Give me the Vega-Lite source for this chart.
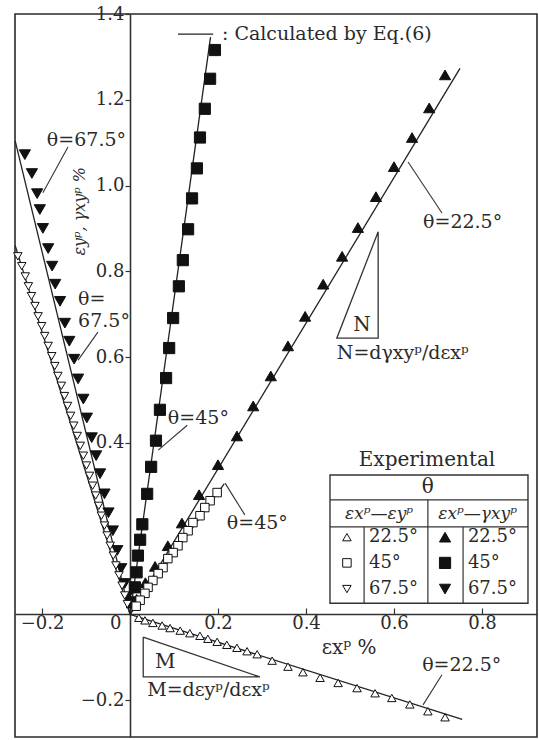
{
  "$schema": "https://vega.github.io/schema/vega-lite/v6.json",
  "width": 522,
  "height": 723,
  "autosize": {"type": "none"},
  "padding": {"left": 15, "top": 14, "right": 2, "bottom": 3},
  "background": "white",
  "config": {
    "view": {"stroke": "#2a2a2a", "strokeWidth": 1.6},
    "font": "DejaVu Serif",
    "text": {"font": "DejaVu Serif", "color": "#222"},
    "axis": {"title": null, "grid": false}
  },
  "datasets": {
    "theory": [
      {"curve": "gxy 22.5", "x0": 0, "y0": 0, "x1": 0.75, "y1": 1.273},
      {"curve": "gxy 45", "x0": 0, "y0": 0, "x1": 0.183, "y1": 1.346},
      {"curve": "gxy 67.5", "x0": 0, "y0": 0, "x1": -0.261, "y1": 1.104},
      {"curve": "ey 22.5", "x0": 0, "y0": 0, "x1": 0.755, "y1": -0.245},
      {"curve": "ey 45", "x0": 0, "y0": 0, "x1": 0.214, "y1": 0.304},
      {"curve": "ey 67.5", "x0": 0, "y0": 0, "x1": -0.261, "y1": 0.86},
      {"curve": "key", "x0": 0.109, "y0": 1.353, "x1": 0.189, "y1": 1.353}
    ],
    "leaders": [
      {"x0": -0.141, "y0": 1.09, "x1": -0.198, "y1": 0.983},
      {"x0": -0.073, "y0": 0.658, "x1": -0.118, "y1": 0.593},
      {"x0": 0.13, "y0": 0.441, "x1": 0.064, "y1": 0.383},
      {"x0": 0.709, "y0": 0.936, "x1": 0.632, "y1": 1.055},
      {"x0": 0.216, "y0": 0.306, "x1": 0.261, "y1": 0.232},
      {"x0": 0.709, "y0": -0.141, "x1": 0.666, "y1": -0.211}
    ],
    "slopes": [
      {"tri": "N", "k": 1, "x": 0.564, "y": 0.892},
      {"tri": "N", "k": 2, "x": 0.564, "y": 0.644},
      {"tri": "N", "k": 3, "x": 0.47, "y": 0.644},
      {"tri": "N", "k": 4, "x": 0.564, "y": 0.892},
      {"tri": "M", "k": 1, "x": 0.03, "y": -0.053},
      {"tri": "M", "k": 2, "x": 0.03, "y": -0.146},
      {"tri": "M", "k": 3, "x": 0.295, "y": -0.146},
      {"tri": "M", "k": 4, "x": 0.03, "y": -0.053}
    ],
    "tbox": [
      {"x0": 0.4545, "x1": 0.9045, "y0": 0.026, "y1": 0.325}
    ],
    "tlines": [
      {"x0": 0.4545, "x1": 0.9045, "y0": 0.267, "y1": 0.267},
      {"x0": 0.4545, "x1": 0.9045, "y0": 0.204, "y1": 0.204},
      {"x0": 0.677, "x1": 0.677, "y0": 0.026, "y1": 0.267},
      {"x0": 0.532, "x1": 0.532, "y0": 0.026, "y1": 0.204},
      {"x0": 0.757, "x1": 0.757, "y0": 0.026, "y1": 0.204}
    ],
    "key": [
      {"strain": "ey", "angle": "22.5", "x": 0.493, "y": 0.18},
      {"strain": "ey", "angle": "45", "x": 0.493, "y": 0.12},
      {"strain": "ey", "angle": "67.5", "x": 0.493, "y": 0.059},
      {"strain": "gxy", "angle": "22.5", "x": 0.716, "y": 0.18},
      {"strain": "gxy", "angle": "45", "x": 0.716, "y": 0.12},
      {"strain": "gxy", "angle": "67.5", "x": 0.716, "y": 0.059}
    ],
    "notes": [
      {"text": "θ=67.5°", "x": -0.189, "y": 1.106},
      {"text": "θ=", "x": -0.118, "y": 0.735},
      {"text": "67.5°", "x": -0.118, "y": 0.683},
      {"text": "θ=45°", "x": 0.086, "y": 0.458},
      {"text": "θ=22.5°", "x": 0.666, "y": 0.915},
      {"text": "θ=45°", "x": 0.22, "y": 0.213},
      {"text": "θ=22.5°", "x": 0.664, "y": -0.118},
      {"text": "N=dγxyᵖ/dεxᵖ", "x": 0.47, "y": 0.609},
      {"text": "M=dεyᵖ/dεxᵖ", "x": 0.039, "y": -0.177},
      {"text": ": Calculated by Eq.(6)", "x": 0.209, "y": 1.353}
    ],
    "cells": [
      {"text": "22.5°", "x": 0.543, "y": 0.18},
      {"text": "45°", "x": 0.543, "y": 0.12},
      {"text": "67.5°", "x": 0.543, "y": 0.059},
      {"text": "22.5°", "x": 0.768, "y": 0.18},
      {"text": "45°", "x": 0.768, "y": 0.12},
      {"text": "67.5°", "x": 0.768, "y": 0.059}
    ],
    "labels": [
      {"text": "N", "x": 0.527, "y": 0.675},
      {"text": "M", "x": 0.08, "y": -0.111},
      {"text": "Experimental", "x": 0.675, "y": 0.36},
      {"text": "θ", "x": 0.677, "y": 0.297},
      {"text": "εxᵖ  %", "x": 0.498, "y": -0.079}
    ],
    "heads": [
      {"text": "εxᵖ—εyᵖ", "x": 0.566, "y": 0.234},
      {"text": "εxᵖ—γxyᵖ", "x": 0.79, "y": 0.234}
    ],
    "ytitle": [
      {"text": "εyᵖ, γxyᵖ  %", "x": -0.114, "y": 0.94}
    ],
    "exp": [
      {"strain": "gxy", "angle": "22.5", "x": 0.716, "y": 1.258},
      {"strain": "gxy", "angle": "22.5", "x": 0.68, "y": 1.181},
      {"strain": "gxy", "angle": "22.5", "x": 0.641, "y": 1.112},
      {"strain": "gxy", "angle": "22.5", "x": 0.6, "y": 1.044},
      {"strain": "gxy", "angle": "22.5", "x": 0.559, "y": 0.974},
      {"strain": "gxy", "angle": "22.5", "x": 0.518, "y": 0.902},
      {"strain": "gxy", "angle": "22.5", "x": 0.482, "y": 0.835},
      {"strain": "gxy", "angle": "22.5", "x": 0.439, "y": 0.77},
      {"strain": "gxy", "angle": "22.5", "x": 0.398, "y": 0.695},
      {"strain": "gxy", "angle": "22.5", "x": 0.359, "y": 0.626},
      {"strain": "gxy", "angle": "22.5", "x": 0.32, "y": 0.556},
      {"strain": "gxy", "angle": "22.5", "x": 0.28, "y": 0.486},
      {"strain": "gxy", "angle": "22.5", "x": 0.243, "y": 0.416},
      {"strain": "gxy", "angle": "22.5", "x": 0.2, "y": 0.349},
      {"strain": "gxy", "angle": "22.5", "x": 0.157, "y": 0.279},
      {"strain": "gxy", "angle": "22.5", "x": 0.118, "y": 0.213},
      {"strain": "gxy", "angle": "22.5", "x": 0.086, "y": 0.16},
      {"strain": "gxy", "angle": "22.5", "x": 0.057, "y": 0.112},
      {"strain": "gxy", "angle": "22.5", "x": 0.035, "y": 0.074},
      {"strain": "gxy", "angle": "22.5", "x": 0.015, "y": 0.035},
      {"strain": "gxy", "angle": "45", "x": 0.193, "y": 1.316},
      {"strain": "gxy", "angle": "45", "x": 0.182, "y": 1.249},
      {"strain": "gxy", "angle": "45", "x": 0.17, "y": 1.179},
      {"strain": "gxy", "angle": "45", "x": 0.159, "y": 1.112},
      {"strain": "gxy", "angle": "45", "x": 0.152, "y": 1.04},
      {"strain": "gxy", "angle": "45", "x": 0.141, "y": 0.97},
      {"strain": "gxy", "angle": "45", "x": 0.132, "y": 0.898},
      {"strain": "gxy", "angle": "45", "x": 0.12, "y": 0.826},
      {"strain": "gxy", "angle": "45", "x": 0.111, "y": 0.765},
      {"strain": "gxy", "angle": "45", "x": 0.098, "y": 0.691},
      {"strain": "gxy", "angle": "45", "x": 0.089, "y": 0.621},
      {"strain": "gxy", "angle": "45", "x": 0.082, "y": 0.551},
      {"strain": "gxy", "angle": "45", "x": 0.068, "y": 0.477},
      {"strain": "gxy", "angle": "45", "x": 0.059, "y": 0.405},
      {"strain": "gxy", "angle": "45", "x": 0.048, "y": 0.344},
      {"strain": "gxy", "angle": "45", "x": 0.039, "y": 0.281},
      {"strain": "gxy", "angle": "45", "x": 0.028, "y": 0.21},
      {"strain": "gxy", "angle": "45", "x": 0.023, "y": 0.174},
      {"strain": "gxy", "angle": "45", "x": 0.018, "y": 0.137},
      {"strain": "gxy", "angle": "45", "x": 0.015, "y": 0.098},
      {"strain": "gxy", "angle": "45", "x": 0.011, "y": 0.063},
      {"strain": "gxy", "angle": "45", "x": 0.005, "y": 0.028},
      {"strain": "gxy", "angle": "67.5", "x": -0.239, "y": 1.072},
      {"strain": "gxy", "angle": "67.5", "x": -0.223, "y": 1.028},
      {"strain": "gxy", "angle": "67.5", "x": -0.211, "y": 0.981},
      {"strain": "gxy", "angle": "67.5", "x": -0.205, "y": 0.944},
      {"strain": "gxy", "angle": "67.5", "x": -0.198, "y": 0.9},
      {"strain": "gxy", "angle": "67.5", "x": -0.186, "y": 0.853},
      {"strain": "gxy", "angle": "67.5", "x": -0.177, "y": 0.812},
      {"strain": "gxy", "angle": "67.5", "x": -0.17, "y": 0.77},
      {"strain": "gxy", "angle": "67.5", "x": -0.159, "y": 0.73},
      {"strain": "gxy", "angle": "67.5", "x": -0.148, "y": 0.679},
      {"strain": "gxy", "angle": "67.5", "x": -0.138, "y": 0.637},
      {"strain": "gxy", "angle": "67.5", "x": -0.127, "y": 0.595},
      {"strain": "gxy", "angle": "67.5", "x": -0.118, "y": 0.549},
      {"strain": "gxy", "angle": "67.5", "x": -0.106, "y": 0.502},
      {"strain": "gxy", "angle": "67.5", "x": -0.098, "y": 0.458},
      {"strain": "gxy", "angle": "67.5", "x": -0.087, "y": 0.412},
      {"strain": "gxy", "angle": "67.5", "x": -0.077, "y": 0.37},
      {"strain": "gxy", "angle": "67.5", "x": -0.068, "y": 0.328},
      {"strain": "gxy", "angle": "67.5", "x": -0.058, "y": 0.281},
      {"strain": "gxy", "angle": "67.5", "x": -0.049, "y": 0.237},
      {"strain": "gxy", "angle": "67.5", "x": -0.039, "y": 0.195},
      {"strain": "gxy", "angle": "67.5", "x": -0.029, "y": 0.149},
      {"strain": "gxy", "angle": "67.5", "x": -0.02, "y": 0.107},
      {"strain": "gxy", "angle": "67.5", "x": -0.012, "y": 0.072},
      {"strain": "gxy", "angle": "67.5", "x": -0.007, "y": 0.04},
      {"strain": "ey", "angle": "22.5", "x": 0.02, "y": -0.008},
      {"strain": "ey", "angle": "22.5", "x": 0.034, "y": -0.014},
      {"strain": "ey", "angle": "22.5", "x": 0.052, "y": -0.02},
      {"strain": "ey", "angle": "22.5", "x": 0.073, "y": -0.026},
      {"strain": "ey", "angle": "22.5", "x": 0.091, "y": -0.032},
      {"strain": "ey", "angle": "22.5", "x": 0.114, "y": -0.038},
      {"strain": "ey", "angle": "22.5", "x": 0.136, "y": -0.044},
      {"strain": "ey", "angle": "22.5", "x": 0.159, "y": -0.05},
      {"strain": "ey", "angle": "22.5", "x": 0.177, "y": -0.057},
      {"strain": "ey", "angle": "22.5", "x": 0.198, "y": -0.064},
      {"strain": "ey", "angle": "22.5", "x": 0.22, "y": -0.071},
      {"strain": "ey", "angle": "22.5", "x": 0.243, "y": -0.078},
      {"strain": "ey", "angle": "22.5", "x": 0.266, "y": -0.086},
      {"strain": "ey", "angle": "22.5", "x": 0.289, "y": -0.093},
      {"strain": "ey", "angle": "22.5", "x": 0.323, "y": -0.108},
      {"strain": "ey", "angle": "22.5", "x": 0.359, "y": -0.122},
      {"strain": "ey", "angle": "22.5", "x": 0.393, "y": -0.135},
      {"strain": "ey", "angle": "22.5", "x": 0.432, "y": -0.148},
      {"strain": "ey", "angle": "22.5", "x": 0.473, "y": -0.16},
      {"strain": "ey", "angle": "22.5", "x": 0.516, "y": -0.172},
      {"strain": "ey", "angle": "22.5", "x": 0.557, "y": -0.184},
      {"strain": "ey", "angle": "22.5", "x": 0.595, "y": -0.195},
      {"strain": "ey", "angle": "22.5", "x": 0.636, "y": -0.21},
      {"strain": "ey", "angle": "22.5", "x": 0.677, "y": -0.226},
      {"strain": "ey", "angle": "22.5", "x": 0.716, "y": -0.24},
      {"strain": "ey", "angle": "45", "x": 0.198, "y": 0.284},
      {"strain": "ey", "angle": "45", "x": 0.182, "y": 0.265},
      {"strain": "ey", "angle": "45", "x": 0.17, "y": 0.249},
      {"strain": "ey", "angle": "45", "x": 0.159, "y": 0.23},
      {"strain": "ey", "angle": "45", "x": 0.143, "y": 0.214},
      {"strain": "ey", "angle": "45", "x": 0.132, "y": 0.195},
      {"strain": "ey", "angle": "45", "x": 0.12, "y": 0.179},
      {"strain": "ey", "angle": "45", "x": 0.109, "y": 0.16},
      {"strain": "ey", "angle": "45", "x": 0.098, "y": 0.144},
      {"strain": "ey", "angle": "45", "x": 0.086, "y": 0.13},
      {"strain": "ey", "angle": "45", "x": 0.075, "y": 0.109},
      {"strain": "ey", "angle": "45", "x": 0.064, "y": 0.095},
      {"strain": "ey", "angle": "45", "x": 0.052, "y": 0.079},
      {"strain": "ey", "angle": "45", "x": 0.041, "y": 0.063},
      {"strain": "ey", "angle": "45", "x": 0.034, "y": 0.049},
      {"strain": "ey", "angle": "45", "x": 0.023, "y": 0.033},
      {"strain": "ey", "angle": "45", "x": 0.014, "y": 0.019},
      {"strain": "ey", "angle": "67.5", "x": -0.255, "y": 0.835},
      {"strain": "ey", "angle": "67.5", "x": -0.246, "y": 0.812},
      {"strain": "ey", "angle": "67.5", "x": -0.238, "y": 0.788},
      {"strain": "ey", "angle": "67.5", "x": -0.231, "y": 0.765},
      {"strain": "ey", "angle": "67.5", "x": -0.224, "y": 0.742},
      {"strain": "ey", "angle": "67.5", "x": -0.216, "y": 0.719},
      {"strain": "ey", "angle": "67.5", "x": -0.209, "y": 0.695},
      {"strain": "ey", "angle": "67.5", "x": -0.201, "y": 0.672},
      {"strain": "ey", "angle": "67.5", "x": -0.194, "y": 0.649},
      {"strain": "ey", "angle": "67.5", "x": -0.186, "y": 0.626},
      {"strain": "ey", "angle": "67.5", "x": -0.178, "y": 0.602},
      {"strain": "ey", "angle": "67.5", "x": -0.171, "y": 0.579},
      {"strain": "ey", "angle": "67.5", "x": -0.164, "y": 0.556},
      {"strain": "ey", "angle": "67.5", "x": -0.156, "y": 0.533},
      {"strain": "ey", "angle": "67.5", "x": -0.149, "y": 0.509},
      {"strain": "ey", "angle": "67.5", "x": -0.142, "y": 0.486},
      {"strain": "ey", "angle": "67.5", "x": -0.135, "y": 0.463},
      {"strain": "ey", "angle": "67.5", "x": -0.128, "y": 0.44},
      {"strain": "ey", "angle": "67.5", "x": -0.12, "y": 0.416},
      {"strain": "ey", "angle": "67.5", "x": -0.113, "y": 0.393},
      {"strain": "ey", "angle": "67.5", "x": -0.106, "y": 0.37},
      {"strain": "ey", "angle": "67.5", "x": -0.099, "y": 0.347},
      {"strain": "ey", "angle": "67.5", "x": -0.092, "y": 0.323},
      {"strain": "ey", "angle": "67.5", "x": -0.085, "y": 0.3},
      {"strain": "ey", "angle": "67.5", "x": -0.078, "y": 0.277},
      {"strain": "ey", "angle": "67.5", "x": -0.071, "y": 0.253},
      {"strain": "ey", "angle": "67.5", "x": -0.065, "y": 0.23},
      {"strain": "ey", "angle": "67.5", "x": -0.058, "y": 0.207},
      {"strain": "ey", "angle": "67.5", "x": -0.052, "y": 0.184},
      {"strain": "ey", "angle": "67.5", "x": -0.045, "y": 0.16},
      {"strain": "ey", "angle": "67.5", "x": -0.038, "y": 0.137},
      {"strain": "ey", "angle": "67.5", "x": -0.032, "y": 0.114},
      {"strain": "ey", "angle": "67.5", "x": -0.025, "y": 0.091},
      {"strain": "ey", "angle": "67.5", "x": -0.018, "y": 0.067},
      {"strain": "ey", "angle": "67.5", "x": -0.012, "y": 0.044},
      {"strain": "ey", "angle": "67.5", "x": -0.006, "y": 0.024}
    ]
  },
  "layer": [
    {
      "data": {"name": "theory"},
      "mark": {"type": "rule", "color": "#222", "strokeWidth": 1.3},
      "encoding": {
        "x": {
          "field": "x0", "type": "quantitative", "title": null,
          "scale": {"domain": [-0.2614, 0.925], "nice": false, "zero": false},
          "axis": {
            "orient": "bottom", "offset": -123,
            "values": [-0.2, 0, 0.2, 0.4, 0.6, 0.8],
            "labelExpr": "datum.value == 0 ? '0' : format(datum.value, '.1f')",
            "tickSize": -6, "tickWidth": 1.2, "tickColor": "#333",
            "domainColor": "#333", "domainWidth": 1.6,
            "labelFont": "DejaVu Serif", "labelFontSize": 18, "labelColor": "#2a2a2a",
            "labelPadding": 6, "labelFlush": false, "labelOverlap": false,
            "labelAlign": {"condition": {"test": "datum.value == 0", "value": "right"}, "value": "center"},
            "labelOffset": {"condition": {"test": "datum.value == 0", "value": -9}, "value": 0}
          }
        },
        "x2": {"field": "x1"},
        "y": {
          "field": "y0", "type": "quantitative", "title": null,
          "scale": {"domain": [-0.286, 1.4], "nice": false, "zero": false},
          "axis": {
            "orient": "left", "offset": -115,
            "values": [-0.2, 0.4, 0.6, 0.8, 1.0, 1.2, 1.4],
            "format": ".1f",
            "tickSize": 5, "tickWidth": 1.2, "tickColor": "#333",
            "domainColor": "#333", "domainWidth": 1.6,
            "labelFont": "DejaVu Serif", "labelFontSize": 18, "labelColor": "#2a2a2a",
            "labelPadding": 1, "labelFlush": false, "labelOverlap": false
          }
        },
        "y2": {"field": "y1"}
      }
    },
    {
      "data": {"name": "leaders"},
      "mark": {"type": "rule", "color": "#333", "strokeWidth": 1.1},
      "encoding": {
        "x": {"field": "x0", "type": "quantitative", "title": null},
        "x2": {"field": "x1"},
        "y": {"field": "y0", "type": "quantitative", "title": null},
        "y2": {"field": "y1"}
      }
    },
    {
      "data": {"name": "slopes"},
      "mark": {"type": "line", "color": "#333", "strokeWidth": 1.3},
      "encoding": {
        "x": {"field": "x", "type": "quantitative", "title": null},
        "y": {"field": "y", "type": "quantitative", "title": null},
        "detail": {"field": "tri"},
        "order": {"field": "k", "type": "quantitative"}
      }
    },
    {
      "data": {"name": "tbox"},
      "mark": {"type": "rect", "fill": "white", "stroke": "#333", "strokeWidth": 1.4},
      "encoding": {
        "x": {"field": "x0", "type": "quantitative", "title": null},
        "x2": {"field": "x1"},
        "y": {"field": "y0", "type": "quantitative", "title": null},
        "y2": {"field": "y1"}
      }
    },
    {
      "data": {"name": "tlines"},
      "mark": {"type": "rule", "color": "#333", "strokeWidth": 1.2},
      "encoding": {
        "x": {"field": "x0", "type": "quantitative", "title": null},
        "x2": {"field": "x1"},
        "y": {"field": "y0", "type": "quantitative", "title": null},
        "y2": {"field": "y1"}
      }
    },
    {
      "data": {"name": "exp"},
      "mark": {"type": "point", "filled": true, "stroke": "#111", "strokeWidth": 1, "opacity": 1},
      "encoding": {
        "x": {"field": "x", "type": "quantitative", "title": null},
        "y": {"field": "y", "type": "quantitative", "title": null},
        "shape": {"field": "angle", "type": "nominal", "legend": null,
          "scale": {"domain": ["22.5", "45", "67.5"], "range": ["triangle-up", "square", "triangle-down"]}},
        "fill": {"field": "strain", "type": "nominal", "legend": null,
          "scale": {"domain": ["ey", "gxy"], "range": ["white", "#111"]}},
        "size": {"field": "strain", "type": "nominal", "legend": null,
          "scale": {"domain": ["ey", "gxy"], "range": [72, 125]}}
      }
    },
    {
      "data": {"name": "key"},
      "mark": {"type": "point", "filled": true, "stroke": "#111", "strokeWidth": 1, "opacity": 1},
      "encoding": {
        "x": {"field": "x", "type": "quantitative", "title": null},
        "y": {"field": "y", "type": "quantitative", "title": null},
        "shape": {"field": "angle", "type": "nominal", "legend": null},
        "fill": {"field": "strain", "type": "nominal", "legend": null},
        "size": {"field": "strain", "type": "nominal", "legend": null}
      }
    },
    {
      "data": {"name": "notes"},
      "mark": {"type": "text", "align": "left", "baseline": "middle", "fontSize": 19, "font": "DejaVu Serif", "color": "#2a2a2a"},
      "encoding": {
        "x": {"field": "x", "type": "quantitative", "title": null},
        "y": {"field": "y", "type": "quantitative", "title": null},
        "text": {"field": "text"}
      }
    },
    {
      "data": {"name": "cells"},
      "mark": {"type": "text", "align": "left", "baseline": "middle", "fontSize": 18, "font": "DejaVu Serif", "color": "#2a2a2a"},
      "encoding": {
        "x": {"field": "x", "type": "quantitative", "title": null},
        "y": {"field": "y", "type": "quantitative", "title": null},
        "text": {"field": "text"}
      }
    },
    {
      "data": {"name": "labels"},
      "mark": {"type": "text", "align": "center", "baseline": "middle", "fontSize": 20, "font": "DejaVu Serif", "color": "#2a2a2a"},
      "encoding": {
        "x": {"field": "x", "type": "quantitative", "title": null},
        "y": {"field": "y", "type": "quantitative", "title": null},
        "text": {"field": "text"}
      }
    },
    {
      "data": {"name": "heads"},
      "mark": {"type": "text", "align": "center", "baseline": "middle", "fontSize": 17, "fontStyle": "italic", "font": "DejaVu Serif", "color": "#2a2a2a"},
      "encoding": {
        "x": {"field": "x", "type": "quantitative", "title": null},
        "y": {"field": "y", "type": "quantitative", "title": null},
        "text": {"field": "text"}
      }
    },
    {
      "data": {"name": "ytitle"},
      "mark": {"type": "text", "align": "center", "baseline": "middle", "angle": 270, "fontSize": 16, "font": "DejaVu Serif", "fontStyle": "italic", "color": "#2a2a2a"},
      "encoding": {
        "x": {"field": "x", "type": "quantitative", "title": null},
        "y": {"field": "y", "type": "quantitative", "title": null},
        "text": {"field": "text"}
      }
    }
  ]
}
